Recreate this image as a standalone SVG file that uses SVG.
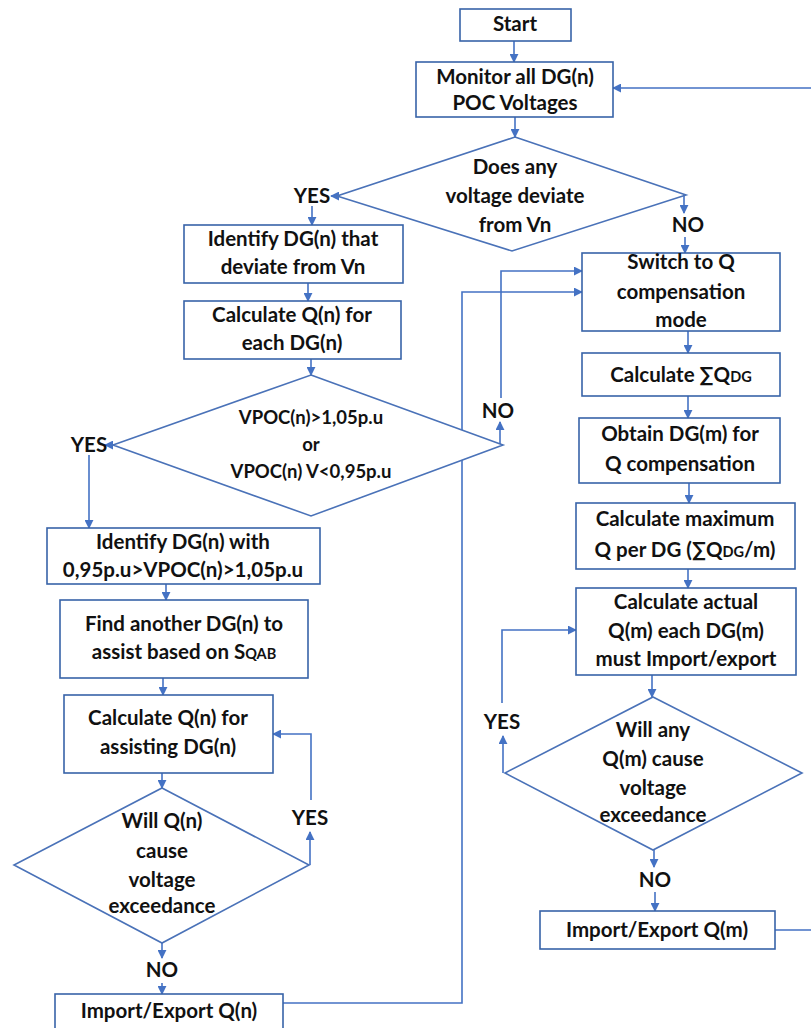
<svg xmlns="http://www.w3.org/2000/svg" width="811" height="1028" viewBox="0 0 811 1028">
<style>
.box{fill:#fff;stroke:#3863A8;stroke-width:1.6}
.dia{fill:#fff;stroke:#4A72B8;stroke-width:1.6}
.ln{fill:none;stroke:#4472C4;stroke-width:1.6}
text{font-family:Lato,"Open Sans","Liberation Sans",sans-serif;font-weight:bold;font-size:20.5px;fill:#111;text-anchor:middle}
.v{font-size:18.5px}
.sm{font-size:14.5px}
</style>
<defs>
<marker id="ah" viewBox="0 0 10 10" refX="9" refY="5" markerWidth="9" markerHeight="9" markerUnits="userSpaceOnUse" orient="auto">
<path d="M0 0 L10 5 L0 10 Z" fill="#4472C4"/>
</marker>
</defs>
<rect width="811" height="1028" fill="#fff"/>
<g id="connectors">
<path class="ln" d="M514 41 L514 62" marker-end="url(#ah)"/>
<path class="ln" d="M515 117 L515 137" marker-end="url(#ah)"/>
<path class="ln" d="M340 196 L331 196" marker-end="url(#ah)"/>
<path class="ln" d="M312 206 L312 225" marker-end="url(#ah)"/>
<path class="ln" d="M684 195 L684 213" marker-end="url(#ah)"/>
<path class="ln" d="M685 237 L685 253" marker-end="url(#ah)"/>
<path class="ln" d="M308 283 L308 301" marker-end="url(#ah)"/>
<path class="ln" d="M311 359 L311 375" marker-end="url(#ah)"/>
<path class="ln" d="M113 445 L105 445" marker-end="url(#ah)"/>
<path class="ln" d="M89 455 L89 528" marker-end="url(#ah)"/>
<path class="ln" d="M500 445 L500 422" marker-end="url(#ah)"/>
<path class="ln" d="M501 398 L501 271 L582 271" marker-end="url(#ah)"/>
<path class="ln" d="M166 584 L166 600" marker-end="url(#ah)"/>
<path class="ln" d="M163 678 L163 695" marker-end="url(#ah)"/>
<path class="ln" d="M162 773 L162 788" marker-end="url(#ah)"/>
<path class="ln" d="M310 865 L310 832" marker-end="url(#ah)"/>
<path class="ln" d="M311 800 L311 734 L273 734" marker-end="url(#ah)"/>
<path class="ln" d="M162 943 L162 958" marker-end="url(#ah)"/>
<path class="ln" d="M162 983 L162 994" marker-end="url(#ah)"/>
<path class="ln" d="M283 1003 L462 1003 L462 292 L582 292" marker-end="url(#ah)"/>
<path class="ln" d="M688 331 L688 353" marker-end="url(#ah)"/>
<path class="ln" d="M688 396 L688 418" marker-end="url(#ah)"/>
<path class="ln" d="M689 483 L689 503" marker-end="url(#ah)"/>
<path class="ln" d="M688 569 L688 588" marker-end="url(#ah)"/>
<path class="ln" d="M652 675 L652 697" marker-end="url(#ah)"/>
<path class="ln" d="M503 773 L503 736" marker-end="url(#ah)"/>
<path class="ln" d="M502 703 L502 630 L576 630" marker-end="url(#ah)"/>
<path class="ln" d="M654 850 L654 867" marker-end="url(#ah)"/>
<path class="ln" d="M655 892 L655 911" marker-end="url(#ah)"/>
<path class="ln" d="M775 930 L816 930 L816 88 L613 88" marker-end="url(#ah)"/>
</g>
<g id="labels">
<text x="312" y="203">YES</text>
<text x="688" y="232">NO</text>
<text x="89" y="452">YES</text>
<text x="498" y="418">NO</text>
<text x="310" y="825">YES</text>
<text x="162" y="977">NO</text>
<text x="502" y="729">YES</text>
<text x="655" y="887">NO</text>
</g>
<g id="start">
<rect class="box" x="460" y="9" width="111" height="32"/>
<text x="515" y="31">Start</text>
</g>
<g id="monitor">
<rect class="box" x="416" y="62" width="197" height="55"/>
<text x="515" y="84">Monitor all DG(n)</text>
<text x="515" y="110">POC Voltages</text>
</g>
<g id="deviate">
<polygon class="dia" points="515,137 686,195 512,251 337,196"/>
<text x="515" y="174">Does any</text>
<text x="515" y="203">voltage deviate</text>
<text x="515" y="232">from Vn</text>
</g>
<g id="identify">
<rect class="box" x="184" y="225" width="219" height="58"/>
<text x="293" y="246">Identify DG(n) that</text>
<text x="293" y="274">deviate from Vn</text>
</g>
<g id="calcq">
<rect class="box" x="184" y="301" width="217" height="58"/>
<text x="292" y="322">Calculate Q(n) for</text>
<text x="292" y="350">each DG(n)</text>
</g>
<g id="vpoc">
<polygon class="dia" points="311,375 503,445 311,516 113,445"/>
<text class="v" x="311" y="424">VPOC(n)&gt;1,05p.u</text>
<text class="v" x="311" y="451">or</text>
<text class="v" x="311" y="478">VPOC(n) V&lt;0,95p.u</text>
</g>
<g id="identifywith">
<rect class="box" x="47" y="528" width="273" height="56"/>
<text x="183" y="549">Identify DG(n) with</text>
<text x="183" y="577">0,95p.u&gt;VPOC(n)&gt;1,05p.u</text>
</g>
<g id="find">
<rect class="box" x="60" y="600" width="248" height="78"/>
<text x="184" y="631">Find another DG(n) to</text>
<text x="184" y="659">assist based on S<tspan class="sm">QAB</tspan></text>
</g>
<g id="calcassist">
<rect class="box" x="64" y="695" width="209" height="78"/>
<text x="168" y="725">Calculate Q(n) for</text>
<text x="168" y="754">assisting DG(n)</text>
</g>
<g id="willq">
<polygon class="dia" points="162,788 309,865 162,943 14,865"/>
<text x="162" y="828">Will Q(n)</text>
<text x="162" y="858">cause</text>
<text x="162" y="887">voltage</text>
<text x="162" y="913">exceedance</text>
</g>
<g id="importn">
<rect class="box" x="55" y="994" width="228" height="40"/>
<text x="169" y="1018">Import/Export Q(n)</text>
</g>
<g id="switch">
<rect class="box" x="582" y="253" width="198" height="78"/>
<text x="681" y="269">Switch to Q</text>
<text x="681" y="299">compensation</text>
<text x="681" y="327">mode</text>
</g>
<g id="calcsum">
<rect class="box" x="582" y="353" width="198" height="43"/>
<text x="681" y="382">Calculate ∑Q<tspan class="sm">DG</tspan></text>
</g>
<g id="obtain">
<rect class="box" x="579" y="418" width="201" height="65"/>
<text x="680" y="441">Obtain DG(m) for</text>
<text x="680" y="471">Q compensation</text>
</g>
<g id="calcmax">
<rect class="box" x="576" y="503" width="219" height="66"/>
<text x="685" y="526">Calculate maximum</text>
<text x="685" y="557">Q per DG (∑Q<tspan class="sm">DG</tspan>/m)</text>
</g>
<g id="calcactual">
<rect class="box" x="576" y="588" width="220" height="87"/>
<text x="686" y="609">Calculate actual</text>
<text x="686" y="638">Q(m) each DG(m)</text>
<text x="686" y="666">must Import/export</text>
</g>
<g id="willany">
<polygon class="dia" points="653,697 802,773 653,850 505,773"/>
<text x="653" y="737">Will any</text>
<text x="653" y="766">Q(m) cause</text>
<text x="653" y="795">voltage</text>
<text x="653" y="822">exceedance</text>
</g>
<g id="importm">
<rect class="box" x="540" y="911" width="235" height="38"/>
<text x="657" y="937">Import/Export Q(m)</text>
</g>
</svg>
